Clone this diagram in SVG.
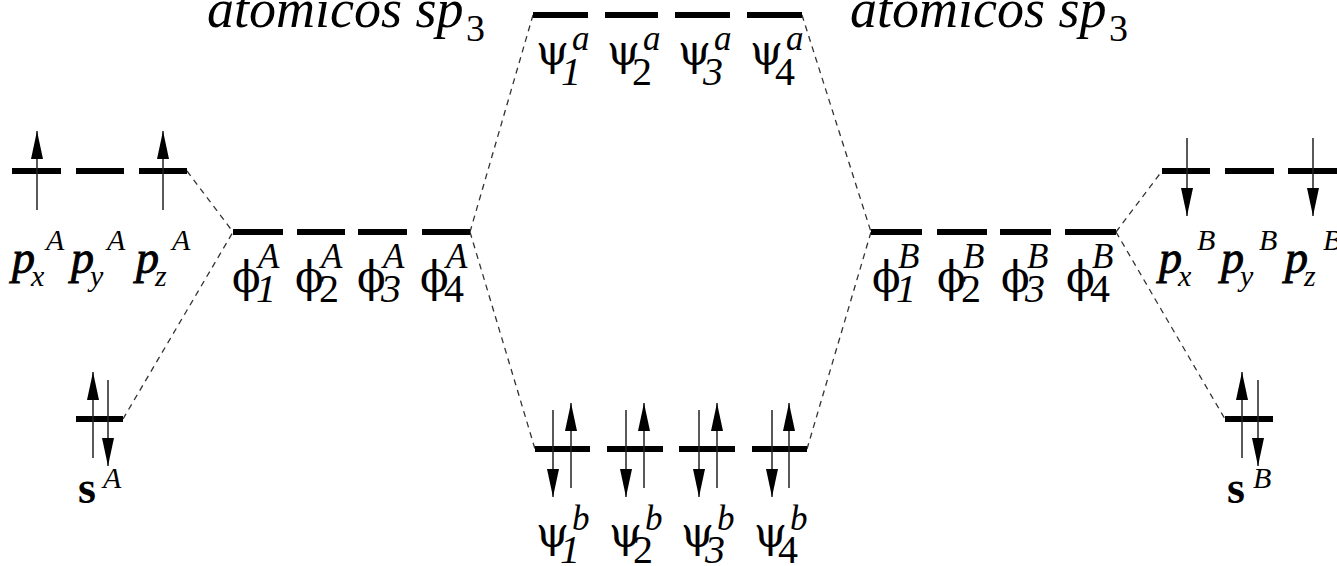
<svg xmlns="http://www.w3.org/2000/svg" width="1337" height="566" viewBox="0 0 1337 566">
<style>
.bar{stroke:#000;stroke-width:6;fill:none}
.dash{stroke:#333;stroke-width:1.3;fill:none;stroke-dasharray:6 5}
.arr{stroke:#222;stroke-width:1.5;fill:none;marker-end:url(#ah)}
.t{font-family:"Liberation Serif","DejaVu Serif",serif;fill:#000}
.big{font-size:54px;font-style:italic}
.sub3{font-size:38px;font-style:normal}
.g{font-family:"DejaVu Serif","Liberation Serif",serif;font-size:42px}
.sup{font-family:"Liberation Serif","DejaVu Serif",serif;font-size:35px;font-style:italic}
.sb{font-family:"Liberation Serif","DejaVu Serif",serif;font-size:40px}
.p{font-family:"Liberation Serif","DejaVu Serif",serif;font-size:46px;font-style:italic;stroke:#000;stroke-width:0.9}
.s{font-family:"Liberation Serif","DejaVu Serif",serif;font-size:46px;font-weight:bold}
.pss{font-size:30px;font-style:italic;font-weight:normal;stroke:none}
</style>
<defs>
<marker id="ah" viewBox="0 0 28 12" refX="28" refY="6" markerWidth="28" markerHeight="12" markerUnits="userSpaceOnUse" orient="auto">
<path d="M0,0 L28,6 L0,12 z" fill="#000"/>
</marker>
</defs>
<rect width="1337" height="566" fill="#fff"/>

<g id="titles">
<text class="t big" x="207" y="27">atómicos sp<tspan class="sub3" x="466" y="41">3</tspan></text>
<text class="t big" x="850" y="27">atómicos sp<tspan class="sub3" x="1109" y="41">3</tspan></text>
</g>

<g id="connectors">
<line class="dash" x1="187" y1="171" x2="233" y2="232"/>
<line class="dash" x1="123" y1="419" x2="233" y2="232"/>
<line class="dash" x1="470" y1="232" x2="533" y2="15"/>
<line class="dash" x1="470" y1="232" x2="535" y2="449"/>
<line class="dash" x1="802" y1="15" x2="871" y2="232"/>
<line class="dash" x1="807" y1="449" x2="871" y2="232"/>
<line class="dash" x1="1116" y1="232" x2="1162" y2="171"/>
<line class="dash" x1="1116" y1="232" x2="1225" y2="419"/>
</g>

<g id="pA">
<line class="bar" x1="12" y1="171" x2="61" y2="171"/>
<line class="bar" x1="76" y1="171" x2="124" y2="171"/>
<line class="bar" x1="139" y1="171" x2="187" y2="171"/>
<line class="arr" x1="37" y1="210" x2="37" y2="131"/>
<line class="arr" x1="163" y1="210" x2="163" y2="131"/>
<text class="p" x="12" y="273">p<tspan class="pss" x="31" y="286">x</tspan><tspan class="pss" x="46" y="250">A</tspan></text>
<text class="p" x="71" y="273">p<tspan class="pss" x="90" y="286">y</tspan><tspan class="pss" x="107" y="250">A</tspan></text>
<text class="p" x="136" y="273">p<tspan class="pss" x="155" y="286">z</tspan><tspan class="pss" x="172" y="250">A</tspan></text>
</g>

<g id="sA">
<line class="bar" x1="76" y1="419" x2="123" y2="419"/>
<line class="arr" x1="93" y1="458" x2="93" y2="372"/>
<line class="arr" x1="108" y1="380" x2="108" y2="466"/>
<text class="s" x="78" y="503">s<tspan class="pss" x="103" y="488">A</tspan></text>
</g>

<g id="phiA">
<line class="bar" x1="233" y1="232" x2="283" y2="232"/>
<line class="bar" x1="297" y1="232" x2="345" y2="232"/>
<line class="bar" x1="358" y1="232" x2="407" y2="232"/>
<line class="bar" x1="422" y1="232" x2="470" y2="232"/>
<text class="g" x="232" y="292">ϕ<tspan class="sb" font-style="italic" x="256" y="302">1</tspan><tspan class="sup" x="258" y="268">A</tspan></text>
<text class="g" x="295" y="292">ϕ<tspan class="sb" x="319" y="302">2</tspan><tspan class="sup" x="321" y="268">A</tspan></text>
<text class="g" x="357" y="292">ϕ<tspan class="sb" font-style="italic" x="381" y="302">3</tspan><tspan class="sup" x="383" y="268">A</tspan></text>
<text class="g" x="420" y="292">ϕ<tspan class="sb" x="444" y="302">4</tspan><tspan class="sup" x="446" y="268">A</tspan></text>
</g>

<g id="antibonding">
<line class="bar" x1="533" y1="15" x2="588" y2="15"/>
<line class="bar" x1="605" y1="15" x2="658" y2="15"/>
<line class="bar" x1="675" y1="15" x2="730" y2="15"/>
<line class="bar" x1="747" y1="15" x2="802" y2="15"/>
<text class="g" x="536" y="65">ψ<tspan class="sb" font-style="italic" x="561" y="85">1</tspan><tspan class="sup" x="572" y="50">a</tspan></text>
<text class="g" x="607" y="65">ψ<tspan class="sb" x="632" y="85">2</tspan><tspan class="sup" x="643" y="50">a</tspan></text>
<text class="g" x="678" y="65">ψ<tspan class="sb" font-style="italic" x="703" y="85">3</tspan><tspan class="sup" x="714" y="50">a</tspan></text>
<text class="g" x="750" y="65">ψ<tspan class="sb" x="775" y="85">4</tspan><tspan class="sup" x="786" y="50">a</tspan></text>
</g>

<g id="bonding">
<line class="bar" x1="535" y1="449" x2="590" y2="449"/>
<line class="bar" x1="607" y1="449" x2="663" y2="449"/>
<line class="bar" x1="679" y1="449" x2="735" y2="449"/>
<line class="bar" x1="752" y1="449" x2="807" y2="449"/>
<line class="arr" x1="553" y1="410" x2="553" y2="497"/>
<line class="arr" x1="571" y1="488" x2="571" y2="403"/>
<line class="arr" x1="626" y1="410" x2="626" y2="497"/>
<line class="arr" x1="644" y1="488" x2="644" y2="403"/>
<line class="arr" x1="699" y1="410" x2="699" y2="497"/>
<line class="arr" x1="717" y1="488" x2="717" y2="403"/>
<line class="arr" x1="772" y1="410" x2="772" y2="497"/>
<line class="arr" x1="789" y1="488" x2="789" y2="403"/>
<text class="g" x="536" y="547">ψ<tspan class="sb" font-style="italic" x="560" y="563">1</tspan><tspan class="sup" x="572" y="530">b</tspan></text>
<text class="g" x="609" y="547">ψ<tspan class="sb" x="633" y="563">2</tspan><tspan class="sup" x="645" y="530">b</tspan></text>
<text class="g" x="681" y="547">ψ<tspan class="sb" font-style="italic" x="705" y="563">3</tspan><tspan class="sup" x="717" y="530">b</tspan></text>
<text class="g" x="754" y="547">ψ<tspan class="sb" x="778" y="563">4</tspan><tspan class="sup" x="790" y="530">b</tspan></text>
</g>

<g id="phiB">
<line class="bar" x1="871" y1="232" x2="922" y2="232"/>
<line class="bar" x1="937" y1="232" x2="987" y2="232"/>
<line class="bar" x1="1000" y1="232" x2="1051" y2="232"/>
<line class="bar" x1="1065" y1="232" x2="1116" y2="232"/>
<text class="g" x="872" y="292">ϕ<tspan class="sb" font-style="italic" x="896" y="302">1</tspan><tspan class="sup" x="898" y="268">B</tspan></text>
<text class="g" x="937" y="292">ϕ<tspan class="sb" x="961" y="302">2</tspan><tspan class="sup" x="963" y="268">B</tspan></text>
<text class="g" x="1001" y="292">ϕ<tspan class="sb" font-style="italic" x="1025" y="302">3</tspan><tspan class="sup" x="1027" y="268">B</tspan></text>
<text class="g" x="1066" y="292">ϕ<tspan class="sb" x="1090" y="302">4</tspan><tspan class="sup" x="1092" y="268">B</tspan></text>
</g>

<g id="pB">
<line class="bar" x1="1162" y1="171" x2="1210" y2="171"/>
<line class="bar" x1="1225" y1="171" x2="1274" y2="171"/>
<line class="bar" x1="1288" y1="171" x2="1340" y2="171"/>
<line class="arr" x1="1187" y1="138" x2="1187" y2="216"/>
<line class="arr" x1="1313" y1="138" x2="1313" y2="216"/>
<text class="p" x="1159" y="273">p<tspan class="pss" x="1178" y="286">x</tspan><tspan class="pss" x="1197" y="250">B</tspan></text>
<text class="p" x="1221" y="273">p<tspan class="pss" x="1240" y="286">y</tspan><tspan class="pss" x="1259" y="250">B</tspan></text>
<text class="p" x="1285" y="273">p<tspan class="pss" x="1304" y="286">z</tspan><tspan class="pss" x="1323" y="250">B</tspan></text>
</g>

<g id="sB">
<line class="bar" x1="1225" y1="419" x2="1273" y2="419"/>
<line class="arr" x1="1242" y1="458" x2="1242" y2="372"/>
<line class="arr" x1="1258" y1="380" x2="1258" y2="466"/>
<text class="s" x="1227" y="503">s<tspan class="pss" x="1253" y="488">B</tspan></text>
</g>
</svg>
